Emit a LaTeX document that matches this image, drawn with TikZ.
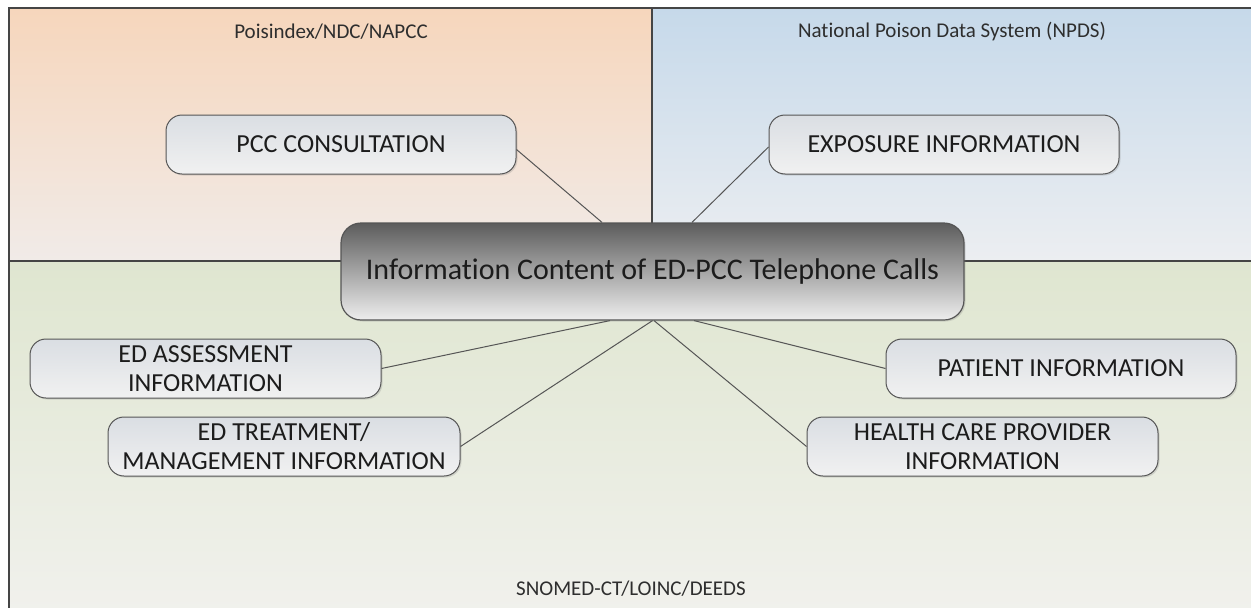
\documentclass[tikz,border=0pt]{standalone}
\usepackage{fontspec}
\setmainfont{Carlito}[Ligatures={NoCommon,NoContextual}]
\usetikzlibrary{shadows}
\definecolor{panelline}{HTML}{454545}
\definecolor{orangetop}{HTML}{F6D6BC}
\definecolor{orangebot}{HTML}{F1EBE8}
\definecolor{bluetop}{HTML}{C6D9EA}
\definecolor{bluebot}{HTML}{ECEEF1}
\definecolor{greentop}{HTML}{DFE6D0}
\definecolor{greenbot}{HTML}{F1F1ED}
\definecolor{boxtop}{HTML}{DADEE3}
\definecolor{boxbot}{HTML}{F1F1F1}
\definecolor{boxline}{HTML}{555555}
\definecolor{ctop}{HTML}{5C5C5C}
\definecolor{cbot}{HTML}{EEEEEE}
\definecolor{linkcol}{HTML}{555555}
\definecolor{txt}{HTML}{1C1C1C}
\definecolor{labtxt}{HTML}{2E2E2E}
\tikzset{
  panel/.style={draw=panelline, line width=1.2pt},
  infobox/.style={draw=boxline, line width=1pt, rounded corners=16pt,
    top color=boxtop, bottom color=boxbot, text=txt,
    minimum width=350pt, minimum height=59pt, inner sep=3pt, align=center,
    font=\fontsize{26}{29}\selectfont,
    drop shadow={opacity=0.25, shadow xshift=1.5pt, shadow yshift=-1.5pt}},
  mainbox/.style={draw=boxline, line width=1.2pt, rounded corners=20pt,
    top color=ctop, bottom color=cbot, text=txt,
    minimum width=623pt, minimum height=97pt, align=center,
    font=\fontsize{30}{34}\selectfont,
    drop shadow={opacity=0.25, shadow xshift=1.5pt, shadow yshift=-1.5pt}},
  paneltitle/.style={text=labtxt, font=\fontsize{21}{24}\selectfont, inner sep=0pt},
  link/.style={draw=linkcol, line width=1pt}
}
\begin{document}
\begin{tikzpicture}[x=1pt, y=-1pt]
\useasboundingbox (0,0) rectangle (1251,608);
\clip (0,0) rectangle (1251,608);
\fill[white] (0,0) rectangle (1251,608);
% panels
\shade[top color=orangetop, bottom color=orangebot] (9,8) rectangle (652,261);
\shade[top color=bluetop, bottom color=bluebot] (652,8) rectangle (1262,261);
\shade[top color=greentop, bottom color=greenbot] (9,261) rectangle (1262,620);
\draw[panel] (1262,8) -- (9,8) -- (9,620);
\draw[panel] (652,8) -- (652,261);
\draw[panel] (9,261) -- (1262,261);
% panel titles
\node[paneltitle] (t1) at (331,32) {Poisindex/NDC/NAPCC};
\node[paneltitle] (t2) at (952,32) {National Poison Data System (NPDS)};
\node[paneltitle] (t3) at (631,589) {SNOMED-CT/LOINC/DEEDS};
% nodes
\node[infobox] (pcc) at (341,144.5) {PCC CONSULTATION};
\node[infobox] (exp) at (944,144.5) {EXPOSURE INFORMATION};
\node[infobox, minimum width=351pt] (edass) at (205.5,368.5) {ED ASSESSMENT\\INFORMATION};
\node[infobox, minimum width=352pt] (edtr) at (284,446.5) {ED TREATMENT/\\MANAGEMENT INFORMATION};
\node[infobox] (pat) at (1061,368.5) {PATIENT INFORMATION};
\node[infobox, minimum width=351pt] (hcp) at (982.5,446.5) {HEALTH CARE PROVIDER\\INFORMATION};
% central node
\node[mainbox] (main) at (652.5,271.5) {Informat\kern0pt ion Content of ED-PCC Telephone Calls};
% links
\draw[link] ([yshift=-5pt]pcc.east) -- ([xshift=-50.5pt]main.north);
\draw[link] ([yshift=-2.5pt]exp.west) -- ([xshift=39.5pt]main.north);
\draw[link] (edass.east) -- ([xshift=-42.5pt]main.south);
\draw[link] (edtr.east) -- (main.south);
\draw[link] (pat.west) -- ([xshift=41.5pt]main.south);
\draw[link] (hcp.west) -- ([xshift=1.5pt]main.south);
\end{tikzpicture}
\end{document}
